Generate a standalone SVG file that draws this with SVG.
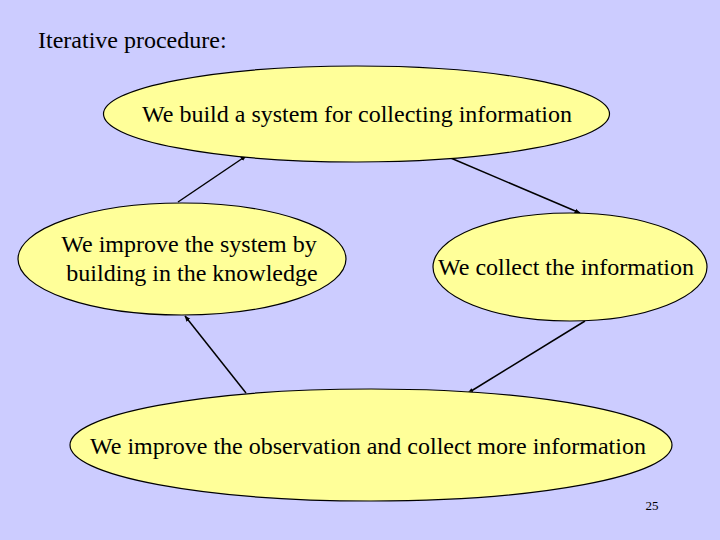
<svg xmlns="http://www.w3.org/2000/svg" width="720" height="540" viewBox="0 0 720 540">
<style>
.n{fill:#FFFF99;stroke:#000;stroke-width:1.2}
.t{font-family:"Liberation Serif","Times New Roman",serif;font-size:24px;fill:#000;text-anchor:middle}
.c{stroke:#000;stroke-width:1.5;fill:none;marker-end:url(#ah)}
</style>
<defs>
<marker id="ah" viewBox="0 0 10 10" refX="9" refY="5" markerWidth="6" markerHeight="6" orient="auto" markerUnits="userSpaceOnUse">
<path d="M0,1 L10,5 L0,9 z" fill="#000"/>
</marker>
</defs>
<rect width="720" height="540" fill="#CCCCFF"/>
<text x="38" y="48" style="font-family:'Liberation Serif','Times New Roman',serif;font-size:24px">Iterative procedure:</text>
<g id="connectors">
<line class="c" x1="178" y1="202" x2="246" y2="156"/>
<line class="c" x1="446" y1="156" x2="580" y2="213"/>
<line class="c" x1="246" y1="393" x2="185" y2="316"/>
<line class="c" x1="585" y1="321" x2="468" y2="393"/>
</g>
<g id="n-build">
<ellipse class="n" cx="356.5" cy="114" rx="253" ry="48"/>
<text class="t" x="357" y="122">We build a system for collecting information</text>
</g>
<g id="n-improve-system">
<ellipse class="n" cx="182" cy="259" rx="164" ry="56"/>
<text class="t" x="189" y="252">We improve the system by</text>
<text class="t" x="192" y="281">building in the knowledge</text>
</g>
<g id="n-collect">
<ellipse class="n" cx="570" cy="267" rx="137" ry="54"/>
<text class="t" x="566" y="275">We collect the information</text>
</g>
<g id="n-improve-obs">
<ellipse class="n" cx="371" cy="445" rx="301" ry="56"/>
<text class="t" x="368" y="454">We improve the observation and collect more information</text>
</g>
<text x="652" y="510" style="font-family:'Liberation Serif','Times New Roman',serif;font-size:13px;text-anchor:middle">25</text>
</svg>
